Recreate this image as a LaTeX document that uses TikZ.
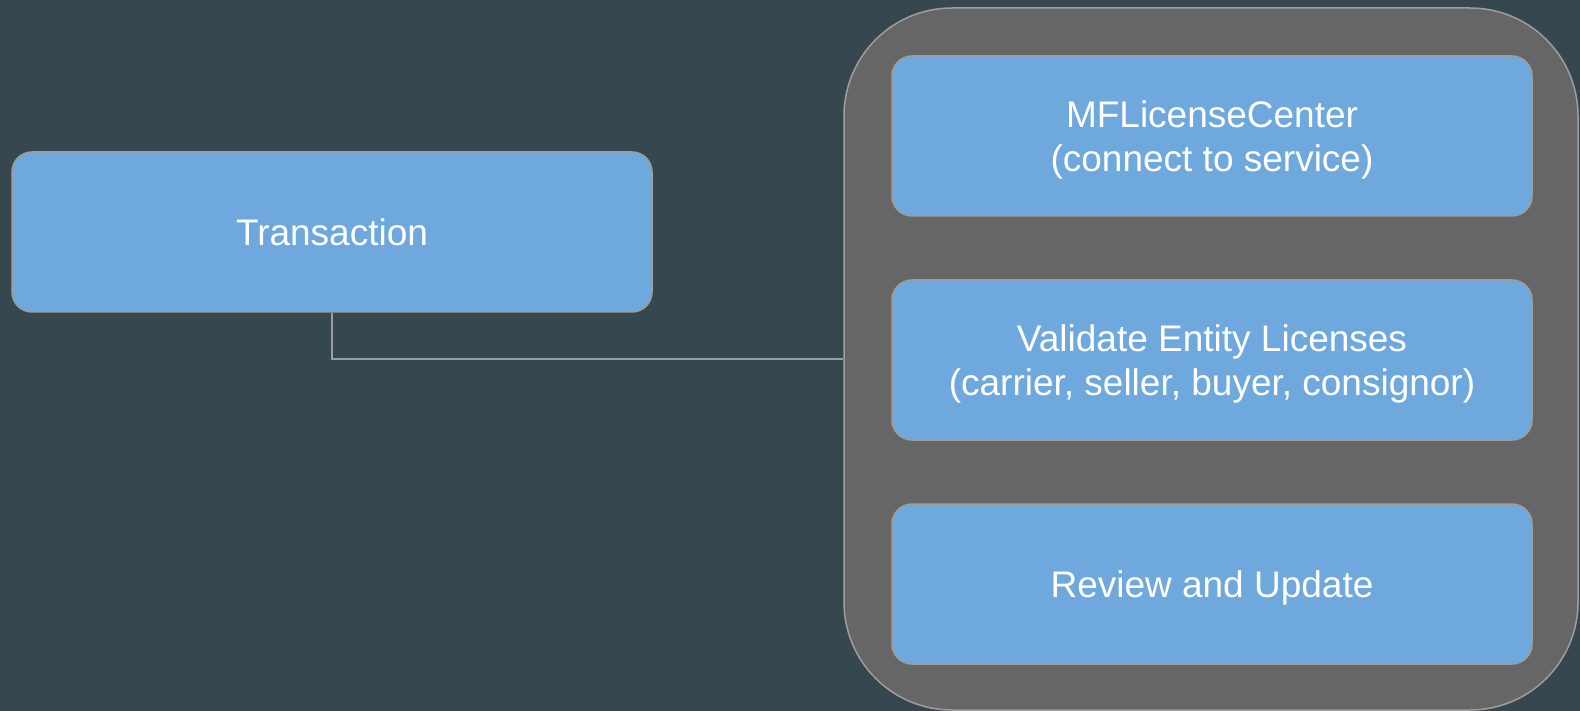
\documentclass[tikz,border=0pt]{standalone}
\usepackage{fontspec}
\setmainfont{Liberation Sans}
\usetikzlibrary{positioning}
\definecolor{bgslate}{HTML}{37474F}
\definecolor{groupgray}{HTML}{666666}
\definecolor{edgegray}{HTML}{9E9E9E}
\definecolor{boxblue}{HTML}{6FA8DC}

\begin{document}
\begin{tikzpicture}[x=1pt, y=-1pt,
    box/.style={draw=edgegray, fill=boxblue, line width=1.5pt, rounded corners=20pt,
        minimum width=640pt, minimum height=160pt, align=center, text=white,
        text depth=0pt, font=\fontsize{37}{44}\selectfont},
    group/.style={draw=edgegray, fill=groupgray, line width=1.5pt, rounded corners=108pt,
        minimum width=734pt, minimum height=702pt},
    wire/.style={draw=edgegray, line width=1.8pt}]
                % Background
                \fill[bgslate] (0,0) rectangle (1580,711);
                \useasboundingbox (0,0) rectangle (1580,711);
                % Service group
                \node[group] (service) at (1211,359) {};
                % Left box
                \node[box] (transaction) at (332,232) {Transaction};
                % Steps inside the group
                \node[box] (licensecenter) at (1212,136) {MFLicenseCenter\\(connect to service)};
                \node[box] (validate) at (1212,360) {Validate Entity Licenses\\(carrier, seller, buyer, consignor)};
                \node[box] (review) at (1212,584) {Review and Update};
                % Connector
                \draw[wire] (transaction.south) |- (service.west);
            \end{tikzpicture}
\end{document}
